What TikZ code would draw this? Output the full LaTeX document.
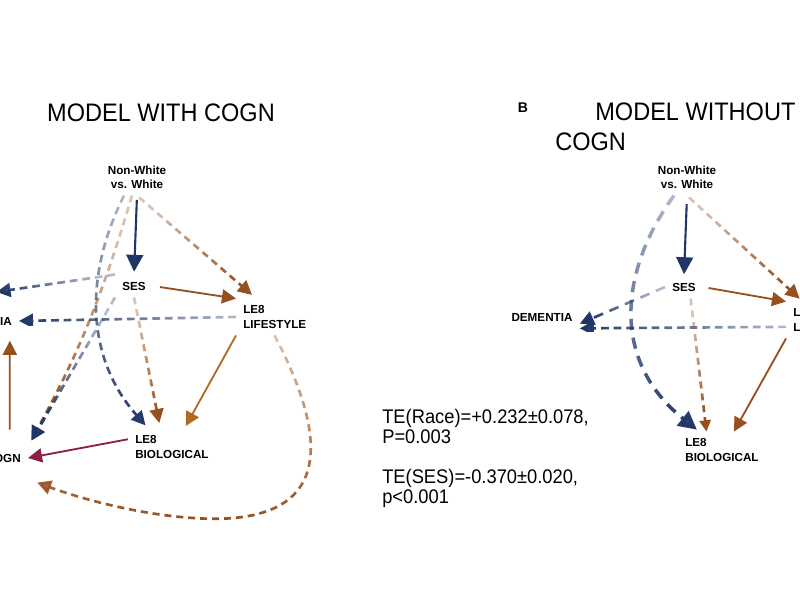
\documentclass[tikz,border=0pt]{standalone}
\usepackage{fontspec}
\setmainfont{Liberation Sans}
\usepackage{graphicx}
\usetikzlibrary{arrows.meta, fadings}

\definecolor{navyc}{HTML}{1F3666}
\definecolor{brownc}{HTML}{96501E}
\definecolor{amberc}{HTML}{B06A22}
\definecolor{winec}{HTML}{8C1E47}

\tikzfading[name=fadein, left color=transparent!65, middle color=transparent!0, right color=transparent!0]

\newcommand{\condtext}[1]{\scalebox{0.93}[1]{#1}}

\begin{document}
\begin{tikzpicture}[
  x=0.025cm, y=0.025cm,
  lbl/.style={font=\fontsize{8.3}{10}\selectfont\bfseries, align=center, inner sep=5pt},
  lblleft/.style={lbl, align=left},
  titletext/.style={font=\fontsize{18}{21.3}\selectfont, inner sep=0pt, align=left},
  statstext/.style={font=\fontsize{14}{14.2}\selectfont, inner sep=0pt, align=left},
  headtip/.style={-{Triangle[length=10pt,width=10pt]}},
  solidnavy/.style={-{Triangle[length=12pt,width=12pt]}, line width=1.5pt, draw=navyc},
  solidbrown/.style={headtip, line width=1.3pt, draw=brownc},
  solidwine/.style={headtip, line width=1.3pt, draw=winec},
  dashnavy/.style={headtip, line width=1.9pt, draw=navyc, dash pattern=on 5.5pt off 3.5pt},
  dashbrown/.style={headtip, line width=1.9pt, draw=brownc, dash pattern=on 5pt off 3.5pt},
  longnavy/.style={headtip, line width=1.9pt, draw=navyc, dash pattern=on 7pt off 5pt},
  thicknavy/.style={-{Triangle[length=13pt,width=13pt]}, line width=2.5pt, draw=navyc, dash pattern=on 8pt off 5.5pt},
  fade/.style={path fading=fadein, fading angle=#1}
]
\useasboundingbox (0,0) rectangle (800,600);
\clip (0,0) rectangle (800,600);

% panel A
\node[titletext] (titleA) at (161,487) {\condtext{MODEL WITH COGN}};
\node[lbl] (raceA) at (137,423) {Non-White\\vs. White};
\node[lbl] (sesA) at (134,314) {SES};
\node[lblleft, anchor=west] (lifeA) at (236,283) {LE8\\LIFESTYLE};
\node[lblleft, anchor=west] (bioA) at (128,153) {LE8\\BIOLOGICAL};
\node[lbl, anchor=east] (demA) at (19,279) {DEMENTIA};
\node[lbl, anchor=east] (cogA) at (28,142) {COGN};

\draw[solidnavy, shorten <=3pt, shorten >=2pt] (raceA.south) -- (sesA.north);
\draw[dashbrown, fade=-40, shorten <=2pt, shorten >=4pt] (raceA.south) -- (lifeA.135);
\draw[solidbrown, shorten <=5pt] (sesA.east) -- (lifeA.north west);
\draw[dashnavy, fade=-147, shorten >=11pt] (sesA.north west) -- ([yshift=11pt]demA.north);
\draw[dashnavy, fade=180] (lifeA.west) -- (demA.east);
\draw[solidbrown, shorten <=12pt, shorten >=6pt] ([xshift=-13pt]cogA.north east) -- ([xshift=-6.5pt]demA.south east);
\draw[dashbrown, fade=-125, shorten >=5pt] (raceA.-105) to[bend left=6] (cogA.north east);
\draw[dashnavy, fade=-90, shorten >=3pt] (raceA.-125) .. controls (82,320) and (88,240) .. (bioA.142);
\draw[dashnavy, fade=-133, shorten >=5pt] (sesA.south west) -- (cogA.north east);
\draw[dashbrown, fade=-55, shorten >=4pt] (sesA.south) -- (bioA.122);
\draw[solidbrown, draw=amberc, shorten >=2pt] (lifeA.south west) -- (bioA.56);
\draw[solidwine] (bioA.170) -- (cogA.east);
\draw[dashbrown, fade=-90, shorten >=7pt] (lifeA.south)
  .. controls (330,160) and (332,80) .. (212,81)
  .. controls (150,82) and (84,100) .. ([yshift=-7pt]cogA.south east);

% effects
\node[statstext, anchor=north west] (effects) at (382,191)
  {\condtext{TE(Race)=+0.232±0.078,}\\\condtext{P=0.003}\\[14.2pt]\condtext{TE(SES)=-0.370±0.020,}\\\condtext{p<0.001}};

% panel B
\node[font=\fontsize{10}{12}\selectfont\bfseries] (labB) at (523,492) {B};
\node[titletext, anchor=north west] (titleB) at (555,497) {\hspace*{28.5pt}\condtext{MODEL WITHOUT}\\\condtext{COGN}};
\node[lbl] (raceB) at (687,423) {Non-White\\vs. White};
\node[lbl] (sesB) at (684,313) {SES};
\node[lbl] (demB) at (542,283) {DEMENTIA};
\node[lblleft, anchor=west] (lifeB) at (786,280) {LE8\\LIFESTYLE};
\node[lblleft, anchor=west] (bioB) at (678,150) {LE8\\BIOLOGICAL};

\draw[solidnavy, shorten <=6pt, shorten >=1pt] (raceB.south) -- (sesB.north);
\draw[dashbrown, fade=-45, shorten <=2pt, shorten >=3pt] (raceB.south) -- (lifeB.140);
\draw[solidbrown, shorten <=4pt] (sesB.east) -- (lifeB.north west);
\draw[longnavy, fade=-140] (sesB.west) -- (demB.-10);
\draw[dashnavy, fade=180] (lifeB.-170) -- (demB.south east);
\draw[thicknavy, fade=-90, shorten >=2pt] (raceB.-125) .. controls (620,330) and (610,240) .. (bioB.141);
\draw[dashbrown, -{Triangle[length=8pt,width=8pt]}, fade=-60] (sesB.-60) -- (bioB.130);
\draw[solidbrown] (lifeB.south west) -- (bioB.57);

\end{tikzpicture}
\end{document}
